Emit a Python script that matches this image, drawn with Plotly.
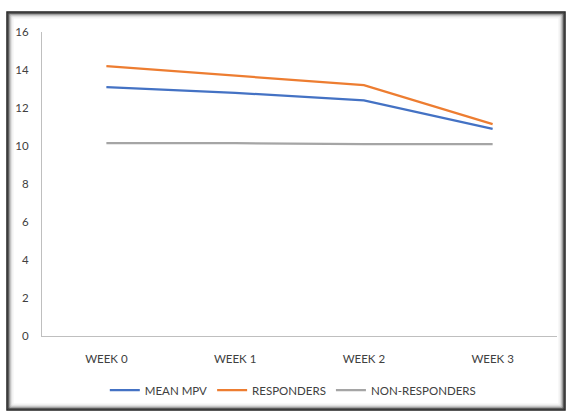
import plotly.graph_objects as go

# Weekly values
weeks = ["WEEK 0", "WEEK 1", "WEEK 2", "WEEK 3"]
mean_mpv = [13.1, 12.8, 12.4, 10.9]
responders = [14.2, 13.7, 13.2, 11.15]
non_responders = [10.15, 10.15, 10.1, 10.1]

W, H = 569, 412
ML, MR, MT, MB = 42, 12, 32, 76
PW, PH = W - ML - MR, H - MT - MB


def px_x(x):
    return (x - ML) / PW


def px_y(y):
    return (H - MB - y) / PH


fig = go.Figure()
series = [
    ("MEAN MPV", mean_mpv, "#4472C4"),
    ("RESPONDERS", responders, "#ED7D31"),
    ("NON-RESPONDERS", non_responders, "#A5A5A5"),
]
for name, vals, col in series:
    fig.add_trace(go.Scatter(x=weeks, y=vals, name=name, mode="lines",
                             line=dict(color=col, width=2.25)))

# Framed, shadowed chart border
shapes = []
for i, (c, w) in enumerate([("#222222", 1.5), ("#333333", 1.5), ("#555555", 1.2),
                            ("#999999", 1.2), ("#c4c4c4", 1.2), ("#e4e4e4", 1.2),
                            ("#f3f3f3", 1.2)]):
    shapes.append(dict(type="rect", xref="paper", yref="paper",
                       x0=px_x(7 + i), x1=px_x(565 - i),
                       y0=px_y(410 - i), y1=px_y(12 + i),
                       line=dict(color=c, width=w), fillcolor="rgba(0,0,0,0)",
                       layer="below"))

fig.update_layout(
    width=W, height=H,
    margin=dict(l=ML, r=MR, t=MT, b=MB, autoexpand=False),
    paper_bgcolor="white", plot_bgcolor="white",
    font=dict(family="Lato, Open Sans, sans-serif", size=11.5, color="#404040"),
    showlegend=True,
    legend=dict(orientation="h", x=0.487, xanchor="center", y=px_y(390),
                yanchor="middle", font=dict(size=11.5, color="#404040"),
                bgcolor="rgba(0,0,0,0)", itemwidth=30, tracegroupgap=0),
    shapes=shapes,
    xaxis=dict(type="category", range=[-0.5, 3.5], showgrid=False,
               showline=True, linecolor="#BFBFBF", linewidth=1.2,
               ticks="", zeroline=False, ticklabelstandoff=12),
    yaxis=dict(range=[0, 16], dtick=2, showgrid=False, showline=True,
               linecolor="#BFBFBF", linewidth=1.2, ticks="", zeroline=False,
               ticklabelstandoff=10),
)

fig.write_html("out.html")
